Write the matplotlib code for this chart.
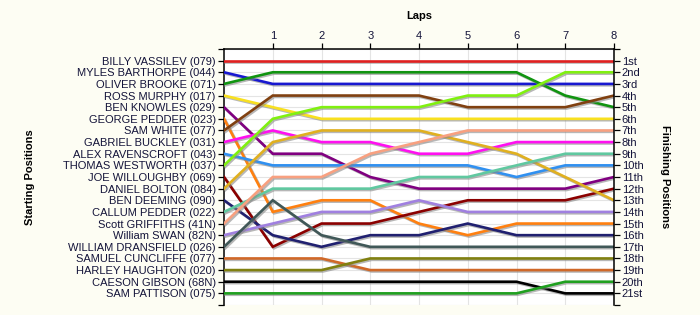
import matplotlib
matplotlib.use("Agg")
import matplotlib.pyplot as plt
import matplotlib.patheffects as pe

plt.rcParams['font.family'] = ['Liberation Sans', 'DejaVu Sans']

drivers = ["BILLY VASSILEV (079)", "MYLES BARTHORPE (044)", "OLIVER BROOKE (071)",
           "ROSS MURPHY (017)", "BEN KNOWLES (029)", "GEORGE PEDDER (023)",
           "SAM WHITE (077)", "GABRIEL BUCKLEY (031)", "ALEX RAVENSCROFT (043)",
           "THOMAS WESTWORTH (037)", "JOE WILLOUGHBY (069)", "DANIEL BOLTON (084)",
           "BEN DEEMING (090)", "CALLUM PEDDER (022)", "Scott GRIFFITHS (41N)",
           "William SWAN (82N)", "WILLIAM DRANSFIELD (026)", "SAMUEL CUNCLIFFE (077)",
           "HARLEY HAUGHTON (020)", "CAESON GIBSON (68N)", "SAM PATTISON (075)"]

laps = [0, 1, 2, 3, 4, 5, 6, 7, 8]

# positions per driver for laps 0..8
pos_vassilev = [1, 1, 1, 1, 1, 1, 1, 1, 1]
pos_barthorpe = [2, 3, 3, 3, 3, 3, 3, 3, 3]
pos_brooke = [3, 2, 2, 2, 2, 2, 2, 4, 5]
pos_murphy = [4, 5, 6, 6, 6, 6, 6, 6, 6]
pos_knowles = [5, 9, 9, 11, 12, 12, 12, 12, 11]
pos_gpedder = [6, 14, 13, 13, 15, 16, 15, 15, 15]
pos_white = [7, 4, 4, 4, 4, 5, 5, 5, 4]
pos_buckley = [8, 7, 8, 8, 9, 9, 8, 8, 8]
pos_ravenscroft = [9, 10, 10, 10, 10, 10, 11, 10, 10]
pos_westworth = [10, 6, 5, 5, 5, 4, 4, 2, 2]
pos_willoughby = [11, 17, 15, 15, 14, 13, 13, 13, 12]
pos_bolton = [12, 8, 7, 7, 7, 8, 9, 11, 13]
pos_deeming = [13, 16, 17, 16, 16, 15, 16, 16, 16]
pos_cpedder = [14, 12, 12, 12, 11, 11, 10, 9, 9]
pos_griffiths = [15, 11, 11, 9, 8, 7, 7, 7, 7]
pos_swan = [16, 15, 14, 14, 13, 14, 14, 14, 14]
pos_dransfield = [17, 13, 16, 17, 17, 17, 17, 17, 17]
pos_cuncliffe = [18, 18, 18, 19, 19, 19, 19, 19, 19]
pos_haughton = [19, 19, 19, 18, 18, 18, 18, 18, 18]
pos_gibson = [20, 20, 20, 20, 20, 20, 20, 21, 21]
pos_pattison = [21, 21, 21, 21, 21, 21, 21, 20, 20]

positions = [pos_vassilev, pos_barthorpe, pos_brooke, pos_murphy, pos_knowles,
             pos_gpedder, pos_white, pos_buckley, pos_ravenscroft, pos_westworth,
             pos_willoughby, pos_bolton, pos_deeming, pos_cpedder, pos_griffiths,
             pos_swan, pos_dransfield, pos_cuncliffe, pos_haughton, pos_gibson,
             pos_pattison]

colors = ['#E02020', '#1818D0', '#109410', '#F8E020', '#800080', '#FF8010',
          '#804010', '#FF10F0', '#3090F0', '#80F010', '#8B0000', '#E0B020',
          '#202070', '#60C8A0', '#F8A080', '#A080E0', '#405858', '#D06828',
          '#808010', '#000000', '#20A020']

finish_labels = ["1st", "2nd", "3rd"] + [f"{i}th" for i in range(4, 21)] + ["21st"]

fig = plt.figure(figsize=(7, 3.15), dpi=100)
fig.patch.set_facecolor('#FDFDF3')
ax = fig.add_axes([224/700, 1-305/315, (614-224)/700, (305-49)/315])
ax.set_facecolor('white')

shadow = [pe.SimpleLineShadow(offset=(1, -1), shadow_color='#888888', alpha=0.6), pe.Normal()]
for p, c in zip(positions, colors):
    ax.plot(laps, p, color=c, lw=1.9, path_effects=shadow, solid_joinstyle='miter', zorder=3)

fs = 8
ax.set_xlim(0, 8)
ax.set_ylim(22, 0)
ax.set_yticks(range(0, 23))
ax.set_yticklabels([''] + drivers + [''], fontsize=fs, color='#14143a')
ax.set_xticks(range(1, 9))
ax.xaxis.tick_top()
ax.set_xticklabels([str(i) for i in range(1, 9)], fontsize=fs, color='#14143a')
ax.tick_params(axis='x', length=4, pad=1.5, width=0.9)
ax.tick_params(axis='y', length=4, pad=2, width=0.9)
ax.grid(True, color='#E4E4E4', lw=0.8, zorder=0)
for s in ['bottom', 'right']:
    ax.spines[s].set_visible(False)
ax.spines['top'].set_linewidth(1.1)
ax.spines['left'].set_linewidth(1.1)

ax2 = ax.twinx()
ax2.set_ylim(22, 0)
ax2.set_yticks(range(0, 23))
ax2.set_yticklabels([''] + finish_labels + [''], fontsize=fs, color='#14143a')
ax2.tick_params(axis='y', length=4, pad=1.5, width=0.9)
for s in ['bottom', 'left', 'top']:
    ax2.spines[s].set_visible(False)
ax2.spines['right'].set_linewidth(1.1)

fig.text(419/700, 1-16/315, 'Laps', ha='center', va='center', fontsize=fs, fontweight='bold')
fig.text(30/700, 1-177/315, 'Starting Positions', ha='center', va='center', rotation=90,
         fontsize=fs, fontweight='bold')
fig.text(665/700, 1-177/315, 'Finishing Positions', ha='center', va='center', rotation=270,
         fontsize=fs, fontweight='bold')

fig.savefig('out.png', dpi=100, facecolor=fig.get_facecolor())
